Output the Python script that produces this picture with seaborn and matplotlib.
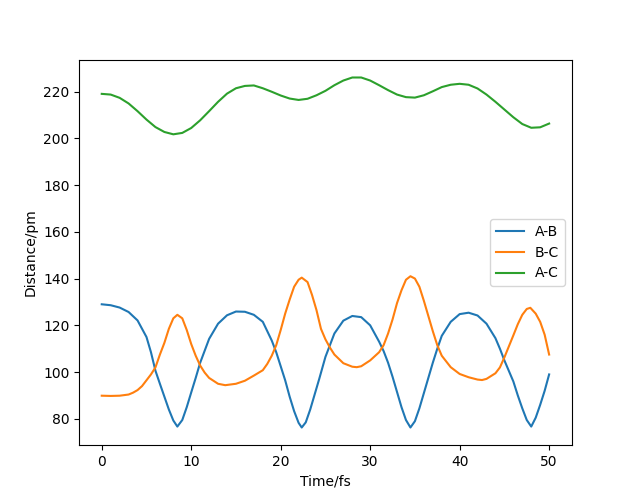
import matplotlib
matplotlib.use("Agg")
import matplotlib.pyplot as plt
import seaborn as sns
import pandas as pd

# A-B
t_ab = [0, 1, 2, 3, 4, 5, 5.5, 6, 6.5, 7, 7.5, 8, 8.45, 9, 9.5, 10, 10.5, 11, 12, 13, 14, 15, 16,
        17, 18, 19, 19.5, 20, 20.5, 21, 21.5, 22, 22.35, 22.8, 23.3, 23.8, 24.3, 25, 26, 27, 28,
        29, 30, 31, 31.5, 32, 32.5, 33, 33.5, 34, 34.5, 35, 35.5, 36, 36.5, 37, 37.5, 38, 39, 40,
        41, 42, 43, 44, 44.5, 45, 45.5, 46, 46.5, 47, 47.5, 48, 48.5, 49, 49.5, 50]
d_ab = [129.0, 128.6, 127.6, 125.7, 122.1, 115.0, 108.5, 100.6, 95.0, 89.5, 84.0, 79.3, 76.7,
        79.5, 85.0, 91.3, 97.5, 104.0, 114.2, 120.7, 124.3, 125.9, 125.8, 124.5, 121.5, 113.5,
        108.5, 102.5, 96.5, 89.5, 83.3, 78.3, 76.3, 78.5, 84.0, 90.5, 97.0, 106.5, 116.5, 122.0,
        124.0, 123.5, 120.0, 113.0, 109.0, 104.0, 98.0, 91.5, 85.0, 79.5, 76.3, 79.0, 84.5, 91.0,
        97.5, 104.0, 110.0, 115.5, 121.5, 124.8, 125.4, 124.2, 120.7, 114.5, 110.0, 105.0, 100.5,
        96.0, 90.0, 84.5, 79.5, 76.7, 80.5, 86.0, 92.0, 99.0]

# B-C
t_bc = [0, 1, 2, 3, 3.5, 4, 4.5, 5, 5.5, 6, 6.5, 7, 7.5, 8, 8.45, 9, 9.5, 10, 10.5, 11, 11.5, 12,
        13, 13.8, 15, 16, 17, 18, 18.5, 19, 19.5, 20, 20.5, 21, 21.5, 22, 22.35, 23, 23.5, 24,
        24.5, 25, 25.5, 26, 27, 28, 28.5, 29, 30, 31, 31.5, 32, 32.5, 33, 33.5, 34, 34.5, 35,
        35.5, 36, 36.5, 37, 37.5, 38, 39, 40, 41, 42, 42.5, 43, 44, 44.5, 45, 45.5, 46, 46.5,
        47, 47.5, 47.9, 48.5, 49, 49.5, 50]
d_bc = [89.9, 89.8, 89.9, 90.4, 91.2, 92.3, 94.0, 96.5, 99.0, 102.0, 107.5, 112.5, 118.5, 123.0,
        124.5, 123.0, 118.0, 112.0, 107.0, 102.8, 99.8, 97.5, 95.0, 94.4, 95.0, 96.3, 98.5, 100.8,
        103.5, 107.0, 111.5, 118.0, 125.0, 131.0, 136.5, 139.5, 140.4, 138.5, 133.0, 126.5, 118.5,
        114.0, 110.5, 107.5, 103.8, 102.3, 102.1, 102.5, 105.0, 108.5, 111.5, 116.5, 122.5, 129.5,
        135.0, 139.5, 141.0, 140.0, 136.5, 130.5, 124.0, 117.5, 111.5, 107.0, 102.1, 99.2, 97.8,
        96.8, 96.6, 97.1, 99.5, 102.0, 106.3, 111.0, 115.7, 120.5, 124.5, 127.0, 127.5, 125.0,
        121.5, 116.0, 107.5]

# A-C
t_ac = list(range(0, 51))
d_ac = [219.0, 218.7, 217.3, 214.9, 211.6, 208.0, 204.8, 202.7, 201.7, 202.3, 204.4, 207.7, 211.6,
        215.6, 219.1, 221.4, 222.4, 222.6, 221.4, 219.9, 218.3, 217.0, 216.4, 216.9, 218.4, 220.3,
        222.7, 224.7, 226.0, 226.0, 224.7, 222.7, 220.6, 218.7, 217.6, 217.4, 218.4, 220.1, 221.9,
        222.9, 223.3, 222.9, 221.3, 218.7, 215.6, 212.3, 209.0, 206.1, 204.5, 204.7, 206.3]

labels = ["A-B", "B-C", "A-C"]

df = pd.concat([
    pd.DataFrame({"Time": t_ab, "Distance": d_ab, "Bond": labels[0]}),
    pd.DataFrame({"Time": t_bc, "Distance": d_bc, "Bond": labels[1]}),
    pd.DataFrame({"Time": t_ac, "Distance": d_ac, "Bond": labels[2]}),
], ignore_index=True)

plt.rcParams.update(plt.rcParamsDefault)
fig, ax = plt.subplots(figsize=(6.35, 5.0), dpi=100)
sns.lineplot(data=df, x="Time", y="Distance", hue="Bond", estimator=None, sort=False,
             palette=["#1f77b4", "#ff7f0e", "#2ca02c"], linewidth=1.5, ax=ax)
handles, labs = ax.get_legend_handles_labels()
ax.legend(handles, labs, loc="center right")
ax.set_xlabel("Time/fs")
ax.set_ylabel("Distance/pm")
ax.set_xticks([0, 10, 20, 30, 40, 50])
ax.set_yticks([80, 100, 120, 140, 160, 180, 200, 220])
fig.savefig("out.png", dpi=100)
